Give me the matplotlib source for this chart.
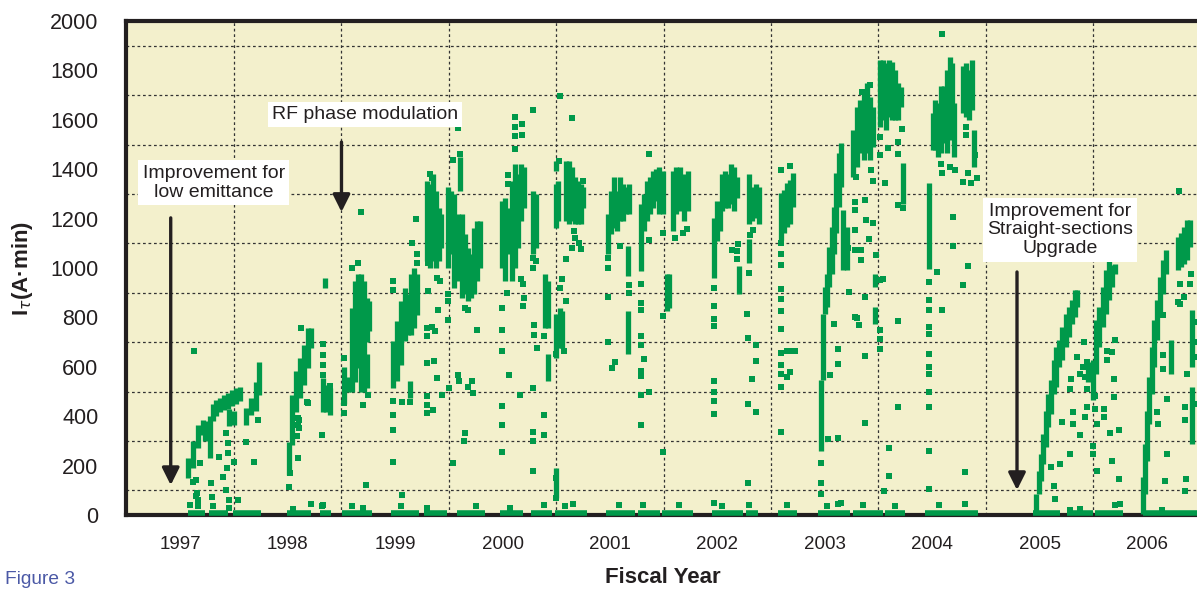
import matplotlib
matplotlib.use("Agg")
import matplotlib.pyplot as plt
from matplotlib.ticker import MultipleLocator, FixedLocator

plt.rcParams['font.family'] = ['Liberation Sans', 'DejaVu Sans']

# ---- data (fiscal year, I*tau in A*min) ----
years = [1997, 1998, 1999, 2000, 2001, 2002, 2003, 2004, 2005, 2006]

# dense vertical runs of points: x, low, high
streak_x = [
    1997.072, 1997.118, 1997.165, 1997.211, 1997.230, 1997.277, 1997.305, 1997.332, 1997.370, 1997.407,
    1997.444, 1997.453, 1997.481, 1997.519, 1997.556, 1997.500, 1997.612, 1997.658, 1997.705, 1997.733,
    1998.012, 1998.040, 1998.077, 1998.114, 1998.152, 1998.189, 1998.217, 1998.329, 1998.357, 1998.394, 1998.348,
    1998.524, 1998.561, 1998.598, 1998.627, 1998.654, 1998.682, 1998.710, 1998.738, 1998.738, 1998.756,
    1998.980, 1999.018, 1999.055, 1999.092, 1999.120, 1999.139, 1999.148, 1999.176, 1999.204,
    1999.297, 1999.325, 1999.353, 1999.381, 1999.409, 1999.427,
    1999.492, 1999.520, 1999.548, 1999.585, 1999.604, 1999.623, 1999.651, 1999.679, 1999.707, 1999.735, 1999.763, 1999.791,
    1999.995, 2000.023, 2000.051, 2000.088, 2000.116, 2000.144, 2000.172, 2000.200,
    2000.284, 2000.312, 2000.396, 2000.424, 2000.424,
    2000.498, 2000.498, 2000.498, 2000.498,
    2000.517, 2000.535, 2000.554, 2000.591, 2000.619, 2000.647, 2000.675, 2000.703, 2000.731, 2000.749,
    2000.982, 2001.010, 2001.038, 2001.066, 2001.094, 2001.122, 2001.150, 2001.178, 2001.169, 2001.169,
    2001.290, 2001.318, 2001.346, 2001.374, 2001.402, 2001.430, 2001.458,
    2001.495, 2001.532, 2001.551, 2001.588, 2001.616, 2001.653, 2001.690, 2001.728,
    2001.969, 2001.997, 2002.025, 2002.044, 2002.072, 2002.100, 2002.127, 2002.155, 2002.183, 2002.202,
    2002.295, 2002.295, 2002.323, 2002.360, 2002.388,
    2002.593, 2002.621, 2002.649, 2002.677, 2002.705,
    2002.966, 2002.984, 2003.003, 2003.021, 2003.040, 2003.068, 2003.086, 2003.105, 2003.133, 2003.152,
    2003.170, 2003.208, 2003.264, 2003.301, 2003.329, 2003.366, 2003.394, 2003.422, 2003.450, 2003.468, 2003.468,
    2003.514, 2003.542, 2003.570, 2003.598, 2003.626, 2003.654, 2003.682, 2003.710, 2003.729,
    2003.971, 2004.008, 2004.027, 2004.054, 2004.082, 2004.110, 2004.138, 2004.166, 2004.185, 2004.203,
    2004.287, 2004.315, 2004.343, 2004.371, 2004.389,
    2004.967, 2004.995, 2005.014, 2005.033, 2005.061, 2005.079, 2005.107, 2005.135, 2005.154, 2005.182,
    2005.210, 2005.247, 2005.275, 2005.303, 2005.331, 2005.349, 2005.452,
    2005.498, 2005.526, 2005.554, 2005.591, 2005.619, 2005.647, 2005.675, 2005.703,
    2005.964, 2005.982, 2006.001, 2006.019, 2006.047, 2006.066, 2006.094, 2006.122, 2006.150, 2006.178,
    2006.224, 2006.290, 2006.318, 2006.346, 2006.374, 2006.402, 2006.420, 2006.420,
]
streak_lo = [
    150, 190, 270, 325, 300, 230, 380, 400, 415, 425,
    430, 360, 440, 450, 460, 365, 365, 405, 420, 486,
    162, 284, 419, 473, 527, 595, 676, 419, 419, 405, 920,
    450, 500, 500, 540, 595, 500, 500, 700, 515, 745,
    514, 541, 609, 703, 730, 473, 730, 757, 811,
    1028, 1000, 1028, 1000, 1028, 1082,
    1000, 1055, 920, 947, 1312, 880, 893, 866, 880, 893, 947, 1000,
    1000, 947, 1055, 947, 1000, 1082, 1190, 1245,
    1055, 1082, 758, 758, 541,
    1393, 1163, 636, 68,
    1190, 676, 676, 1190, 1177, 1190, 1177, 1177, 1177, 1245,
    1055, 1137, 1164, 1150, 1190, 1190, 1218, 1218, 967, 650,
    988, 1150, 1190, 1218, 1245, 1272, 1218,
    1218, 825, 839, 1150, 1218, 1231, 1190, 1231,
    960, 1109, 1150, 1231, 1245, 1245, 1258, 1231, 1285, 893,
    1177, 1021, 1190, 1204, 1177,
    1113, 1140, 1167, 1180, 1248,
    260, 545, 815, 842, 923, 977, 1058, 1140, 1248, 1329,
    991, 991, 1370, 1410, 1464, 1437, 1464, 1437, 1491, 923, 775,
    1572, 1600, 1559, 1613, 1600, 1600, 1600, 1653, 1261,
    998, 1478, 1478, 1451, 1464, 1505, 1464, 1518, 1626, 1451,
    1626, 1613, 1600, 1640, 1410,
    0, 85, 139, 207, 274, 356, 410, 491, 518, 599,
    626, 680, 721, 775, 802, 842, 540,
    464, 572, 680, 761, 815, 869, 923, 977,
    4, 85, 220, 369, 491, 599, 707, 815, 896, 977,
    572, 991, 1004, 1018, 1032, 1086, 599, 288,
]
streak_hi = [
    230, 300, 365, 385, 380, 400, 450, 465, 475, 485,
    495, 430, 505, 515, 520, 420, 432, 473, 540, 620,
    297, 486, 581, 635, 689, 757, 757, 554, 527, 513, 960,
    600, 560, 840, 947, 975, 975, 947, 880, 650, 866,
    703, 785, 866, 920, 893, 541, 974, 1000, 974,
    1353, 1340, 1380, 1312, 1245, 1218,
    1326, 1312, 1299, 1218, 1448, 1218, 1137, 1082, 1055, 1164, 1190, 1190,
    1272, 1285, 1245, 1353, 1420, 1380, 1420, 1407,
    1312, 1299, 974, 947, 650,
    1434, 1340, 812, 190,
    1353, 839, 826, 1434, 1434, 1407, 1367, 1353, 1340, 1326,
    1218, 1312, 1367, 1312, 1367, 1340, 1326, 1340, 1089, 826,
    1258, 1299, 1353, 1367, 1394, 1400, 1407,
    1394, 974, 974, 1394, 1407, 1407, 1380, 1394,
    1204, 1272, 1258, 1380, 1394, 1380, 1420, 1407, 1367, 1008,
    1380, 1116, 1326, 1340, 1326,
    1302, 1315, 1343, 1356, 1383,
    545, 815, 923, 977, 1086, 1167, 1248, 1383, 1464, 1505,
    1234, 1167, 1559, 1653, 1680, 1707, 1748, 1694, 1653, 977, 842,
    1843, 1843, 1829, 1843, 1836, 1802, 1748, 1734, 1424,
    1343, 1626, 1680, 1667, 1735, 1735, 1802, 1856, 1829, 1667,
    1816, 1829, 1802, 1843, 1559,
    85, 180, 247, 329, 423, 491, 545, 626, 680, 707,
    761, 815, 842, 869, 910, 910, 620,
    626, 788, 842, 923, 991, 1032, 1011, 1018,
    153, 288, 423, 558, 680, 788, 869, 964, 1032, 1072,
    707, 1126, 1140, 1167, 1194, 1194, 829, 518,
]

# isolated points
dot_x = [
    1997.118, 1997.146, 1997.165, 1997.127, 1997.146, 1997.183, 1997.155, 1997.165,
    1997.426, 1997.444, 1997.444, 1997.435, 1997.398, 1997.361, 1997.426, 1997.454, 1997.286, 1997.295,
    1997.500, 1997.537, 1997.612, 1997.686, 1997.724,
    1998.124, 1998.189, 1998.105, 1998.105, 1998.086, 1998.096, 1998.012, 1998.021, 1998.096, 1998.096,
    1998.180, 1998.320, 1998.329, 1998.329, 1998.329, 1998.329, 1998.329, 1998.394,
    1998.682, 1998.654, 1998.598, 1998.700, 1998.747, 1998.728, 1998.524, 1998.524, 1998.524,
    1998.980, 1998.980, 1998.980, 1998.980, 1998.980, 1998.980, 1999.204, 1999.204, 1999.157, 1999.195,
    1999.064, 1999.139, 1999.064,
    1999.325, 1999.344, 1999.306, 1999.306, 1999.390, 1999.418, 1999.400, 1999.306, 1999.297, 1999.297,
    1999.344, 1999.372, 1999.297, 1999.362, 1999.390, 1999.437, 1999.297, 1999.297, 1999.297, 1999.353,
    1999.492, 1999.492, 1999.492, 1999.585, 1999.604, 1999.539, 1999.557, 1999.576, 1999.604, 1999.651,
    1999.679, 1999.763, 1999.585, 1999.595, 1999.679, 1999.716, 1999.725, 1999.502, 1999.539, 1999.651, 1999.641,
    1999.995, 1999.995, 1999.995, 1999.995, 1999.995, 1999.995, 2000.116, 2000.116, 2000.116, 2000.182,
    2000.182, 2000.116, 2000.051, 2000.051, 2000.023, 2000.098, 2000.172, 2000.191, 2000.200, 2000.191, 2000.042,
    2000.284, 2000.284, 2000.312, 2000.293, 2000.293, 2000.284, 2000.284, 2000.284, 2000.284, 2000.386,
    2000.386, 2000.321, 2000.386, 2000.163, 2000.060, 2000.284,
    2000.535, 2000.647, 2000.526, 2000.749, 2000.666, 2000.675, 2000.647, 2000.731, 2000.712, 2000.591,
    2000.554, 2000.535, 2000.591, 2000.572, 2000.498, 2000.498, 2000.498, 2001.367,
    2000.982, 2000.982, 2000.982, 2000.982, 2001.020, 2001.047, 2001.094, 2001.178, 2001.178,
    2001.290, 2001.290, 2001.290, 2001.290, 2001.290, 2001.290, 2001.290, 2001.290, 2001.290, 2001.365,
    2001.318, 2001.365,
    2001.495, 2001.495, 2001.495, 2001.607, 2001.681, 2001.718,
    2001.969, 2001.969, 2001.969, 2001.969, 2001.969, 2001.969, 2001.969, 2001.969, 2001.969, 2002.137,
    2002.192, 2002.183, 2002.183,
    2002.304, 2002.332, 2002.295, 2002.276, 2002.286, 2002.360, 2002.360, 2002.323, 2002.286, 2002.360, 2002.286,
    2002.593, 2002.593, 2002.593, 2002.593, 2002.593, 2002.593, 2002.593, 2002.593, 2002.593, 2002.593,
    2002.593, 2002.593, 2002.593, 2002.649, 2002.649, 2002.677, 2002.677, 2002.677, 2002.724,
    2002.966, 2002.966, 2002.966, 2003.347, 2003.422, 2003.291, 2003.431, 2003.450, 2003.282, 2003.282,
    2003.375, 2003.384, 2003.450, 2003.412, 2003.282, 2003.217, 2003.338, 2003.338, 2003.282, 2003.226,
    2003.375, 2003.282, 2003.319, 2003.086, 2003.124, 2003.124, 2003.049, 2003.031, 2003.375, 2003.124,
    2003.477, 2003.124, 2003.301, 2003.375,
    2003.514, 2003.514, 2003.514, 2003.514, 2003.514, 2003.514, 2003.589, 2003.719, 2003.682, 2003.682,
    2003.561, 2003.682, 2003.729, 2003.542, 2003.682, 2003.682, 2003.598, 2003.598, 2003.552,
    2003.971, 2003.971, 2003.971, 2003.971, 2003.971, 2003.971, 2003.971, 2003.971, 2003.971, 2003.971,
    2003.971, 2003.971, 2004.092, 2004.082, 2004.092, 2004.166, 2004.213, 2004.194, 2004.194, 2004.045,
    2004.092, 2004.315, 2004.315, 2004.399, 2004.334, 2004.417, 2004.287, 2004.362, 2004.334, 2004.287, 2004.306,
    2005.103, 2005.135, 2005.145, 2005.191, 2005.210, 2005.284, 2005.294, 2005.312, 2005.312, 2005.284,
    2005.377, 2005.424, 2005.442, 2005.349, 2005.377, 2005.405, 2005.442, 2005.414, 2005.517, 2005.517,
    2005.535, 2005.498, 2005.498, 2005.535, 2005.628, 2005.675, 2005.628, 2005.703, 2005.694, 2005.694,
    2005.600, 2005.600, 2005.656, 2005.740, 2005.675, 2005.740, 2005.749,
    2005.420, 2005.470, 2005.490, 2005.440,
    2006.299, 2006.309, 2006.309, 2006.346, 2006.411, 2006.402, 2006.290, 2006.150, 2006.150, 2006.150,
    2006.188, 2006.094, 2006.103, 2006.188, 2006.169, 2006.355, 2006.355, 2006.374, 2006.364, 2006.355,
    2006.450, 2006.450, 2006.450, 2006.450,
    # small bumps on the baseline
    1997.090, 1997.300, 1997.450, 1998.050, 1998.220, 1998.320, 1998.600, 1998.700, 1999.050, 1999.300,
    1999.750, 2000.070, 2000.390, 2000.580, 2000.660, 2001.080, 2001.310, 2001.640, 2002.040, 2002.290,
    2002.650, 2003.020, 2003.150, 2003.360, 2003.650, 2004.060, 2004.310, 2005.280, 2005.380, 2005.700, 2006.140,
]
dot_y = [
    135, 75, 35, 665, 142, 209, 88, 61,
    331, 250, 290, 190, 155, 236, 101, 60, 128, 74,
    216, 61, 297, 216, 385,
    757, 453, 385, 351, 318, 230, 115, 169, 365, 392,
    459, 324, 40, 693, 649, 608, 568, 524,
    1227, 1020, 1000, 446, 487, 122, 636, 453, 412,
    460, 406, 345, 216, 947, 913, 1055, 1021, 1102, 1200,
    457, 457, 81,
    1380, 1366, 1070, 1021, 960, 947, 832, 906, 758, 724,
    760, 744, 616, 625, 555, 484, 480, 446, 412, 426,
    893, 866, 790, 1565, 1461, 1438, 1021, 985, 960, 839,
    832, 751, 568, 541, 520, 544, 494, 514, 210, 331, 298,
    839, 751, 663, 440, 365, 257, 1613, 1536, 1570, 1540,
    1583, 1481, 1376, 1342, 1042, 1017, 954, 934, 879, 845, 897,
    1000, 1040, 1028, 771, 730, 514, 298, 338, 178, 406,
    325, 676, 724, 487, 568, 1640,
    1698, 1607, 1434, 1353, 1150, 1123, 1082, 1076, 1100, 1035,
    954, 920, 866, 666, 650, 150, 70, 1460,
    1000, 1042, 882, 700, 595, 618, 1089, 931, 898,
    934, 859, 830, 726, 690, 561, 582, 487, 365, 1112,
    630, 500,
    1143, 805, 257, 1123, 1143, 1157,
    920, 848, 794, 764, 541, 500, 460, 409, 47, 1071,
    1096, 1069, 1035,
    1132, 1154, 981, 812, 717, 690, 622, 551, 449, 415, 128,
    1397, 1100, 1058, 1011, 876, 917, 825, 752, 657, 606,
    572, 518, 338, 662, 558, 1413, 666, 579, 666,
    210, 130, 85, 1714, 1741, 1370, 1397, 1352, 1268, 1234,
    1275, 1196, 1183, 1119, 1153, 1080, 1072, 1032, 1072, 903,
    883, 802, 768, 772, 673, 612, 568, 308, 372, 45,
    1052, 311, 797, 644,
    1532, 1458, 950, 748, 714, 673, 1485, 1563, 1509, 1460,
    1343, 1255, 1241, 957, 784, 439, 270, 157, 99,
    944, 869, 831, 734, 761, 653, 599, 572, 498, 437,
    261, 105, 1948, 1421, 1383, 1410, 1397, 1207, 1088, 984,
    829, 1572, 1539, 1458, 1383, 1363, 1349, 1345, 1007, 933, 173,
    193, 119, 65, 207, 376, 511, 552, 416, 369, 247,
    322, 396, 437, 640, 572, 599, 511, 700, 430, 480,
    369, 281, 247, 180, 666, 660, 626, 707, 552, 477,
    430, 396, 331, 345, 220, 146, 45,
    560, 600, 560, 620,
    1311, 937, 856, 883, 977, 937, 862, 808, 646, 592,
    470, 416, 369, 247, 139, 437, 383, 572, 146, 99,
    700, 640, 780, 450,
    40, 35, 30, 25, 45, 35, 35, 30, 35, 30,
    35, 30, 40, 35, 45, 40, 40, 40, 35, 40,
    40, 35, 50, 40, 35, 40, 45, 20, 25, 40, 20,
]

# runs of points lying on the zero line
run_start = [1997.073, 1997.268, 1997.491, 1997.993, 1998.301, 1998.503, 1998.963, 1999.270, 1999.576,
             1999.976, 2000.265, 2000.489, 2000.963, 2001.261, 2001.485, 2001.950, 2002.267, 2002.565,
             2002.938, 2003.264, 2003.561, 2003.933, 2004.259, 2004.940, 2005.256, 2005.517, 2005.963]
run_end = [1997.231, 1997.445, 1997.752, 1998.217, 1998.403, 1998.782, 1999.223, 1999.483, 1999.837,
           2000.191, 2000.461, 2000.787, 2001.233, 2001.466, 2001.774, 2002.239, 2002.379, 2002.742,
           2003.236, 2003.543, 2003.747, 2004.259, 2004.427, 2005.191, 2005.498, 2005.777, 2006.500]

green = '#00994a'
ink = '#231f20'

fig = plt.figure(figsize=(11.97, 5.94), dpi=100)
ax = fig.add_axes([0.1053, 0.133, 0.8947, 0.8316])
ax.set_facecolor('#f3f0cc')

ax.vlines(streak_x, streak_lo, streak_hi, colors=green, linewidth=3.8, zorder=3)
ax.scatter(dot_x, dot_y, s=14, marker='s', color=green, linewidths=0, zorder=3)
ax.hlines([10] * len(run_start), run_start, run_end, colors=green, linewidth=4.0, zorder=4, clip_on=False)

ax.set_xlim(1996.494, 2006.466)
ax.set_ylim(0, 2000)
ax.set_xticks(years)
ax.set_xticklabels([str(y) for y in years])
ax.yaxis.set_major_locator(MultipleLocator(200))
ax.yaxis.set_minor_locator(MultipleLocator(100))
ax.xaxis.set_minor_locator(FixedLocator([y + 0.5 for y in years[:-1]]))
ax.tick_params(axis='both', which='both', length=0, colors=ink)
ax.tick_params(axis='y', pad=20, labelsize=15.5)
ax.tick_params(axis='x', pad=15, labelsize=13.5)

ax.grid(False, which='major')
ax.yaxis.grid(True, which='minor', linestyle=(0, (2.2, 2.2)), color='#333333', linewidth=0.9)
ax.xaxis.grid(True, which='minor', linestyle=(0, (2.2, 2.2)), color='#333333', linewidth=0.9)
ax.set_axisbelow(True)

for side in ['left', 'top', 'bottom']:
    ax.spines[side].set_linewidth(3.0)
    ax.spines[side].set_color(ink)
ax.spines['right'].set_visible(False)

ax.set_ylabel(r'I$_{\tau}$(A·min)', fontsize=16, fontweight='bold', color=ink, va='center')
ax.yaxis.set_label_coords(-0.097, 0.5)
fig.text(0.554, 0.027, 'Fiscal Year', fontsize=16, fontweight='bold', color=ink, ha='center', va='center')
fig.text(0.004, 0.024, 'Figure 3', fontsize=13.8, color='#4b59a6', ha='left', va='center')

box = dict(facecolor='white', edgecolor='none', pad=3)
arrow = dict(arrowstyle='-|>', color=ink, lw=2.4, mutation_scale=26, shrinkA=0, shrinkB=0)

ax.text(1997.31, 1345, 'Improvement for\nlow emittance', fontsize=14, color=ink,
        ha='center', va='center', bbox=box, zorder=6, linespacing=1.2)
ax.annotate('', xy=(1996.91, 121), xytext=(1996.91, 1203), arrowprops=arrow, zorder=6)

ax.text(1998.72, 1620, 'RF phase modulation', fontsize=14, color=ink,
        ha='center', va='center', bbox=box, zorder=6)
ax.annotate('', xy=(1998.50, 1227), xytext=(1998.50, 1510), arrowprops=arrow, zorder=6)

ax.text(2005.19, 1154, 'Improvement for\nStraight-sections\nUpgrade', fontsize=14, color=ink,
        ha='center', va='center', bbox=box, zorder=6, linespacing=1.15)
ax.annotate('', xy=(2004.79, 101), xytext=(2004.79, 984), arrowprops=arrow, zorder=6)

fig.savefig('out.png', dpi=100)
